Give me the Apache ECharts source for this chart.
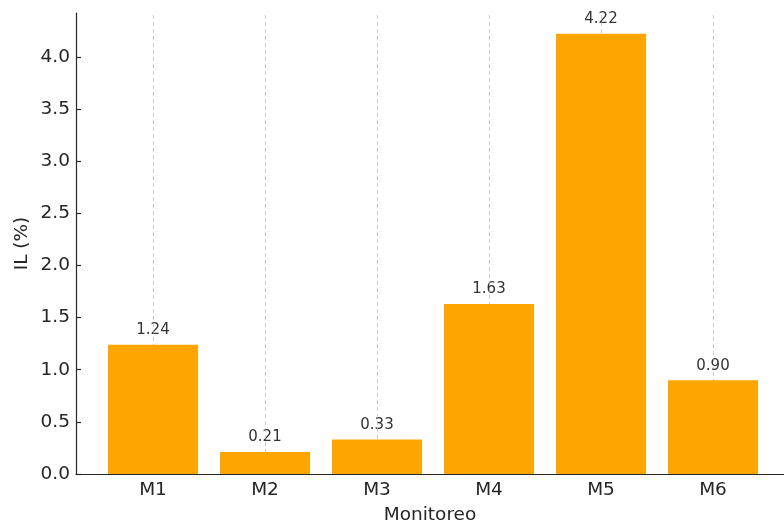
<!DOCTYPE html>
<html>
<head>
<meta charset="utf-8">
<script src="https://cdn.jsdelivr.net/npm/echarts@6/dist/echarts.min.js"></script>
<style>
html,body{margin:0;padding:0;background:#fff;}
#chart{width:784px;height:522px;}
</style>
</head>
<body>
<div id="chart"></div>
<script>
const categories = ["M1", "M2", "M3", "M4", "M5", "M6"];
const values = [1.24, 0.21, 0.33, 1.63, 4.22, 0.90];
const yTicks = [0, 0.5, 1.0, 1.5, 2.0, 2.5, 3.0, 3.5, 4.0];
const xName = "Monitoreo";
const yName = "IL (%)";

const catIdx = categories.map((c, i) => i);
const font = "DejaVu Sans";

const chart = echarts.init(document.getElementById('chart'));
chart.setOption({
  animation: false,
  backgroundColor: '#ffffff',
  grid: { left: 76, right: 0, top: 13, bottom: 48, containLabel: false, outerBoundsMode: 'none' },
  xAxis: {
    type: 'value',
    min: -0.6875,
    max: 5.634,
    name: xName,
    nameLocation: 'middle',
    nameGap: 32,
    nameMoveOverlap: false,
    nameTextStyle: { fontFamily: font, fontSize: 18.5, color: '#262626' },
    axisLine: { show: true, onZero: false, lineStyle: { color: '#262626', width: 1.2 } },
    axisTick: { show: true, inside: true, length: 5, customValues: catIdx, lineStyle: { color: '#262626', width: 1.2 } },
    axisLabel: {
      customValues: catIdx,
      formatter: v => categories[Math.round(v)] ?? '',
      fontFamily: font, fontSize: 18.5, color: '#262626', margin: 7
    },
    splitLine: { show: false }
  },
  yAxis: {
    type: 'value',
    min: 0,
    max: 4.42,
    name: yName,
    nameLocation: 'middle',
    nameGap: 44,
    nameMoveOverlap: false,
    nameTextStyle: { fontFamily: font, fontSize: 18.5, color: '#262626' },
    axisLine: { show: true, onZero: false, lineStyle: { color: '#262626', width: 1.2 } },
    axisTick: { show: true, inside: true, length: 5, customValues: yTicks, lineStyle: { color: '#262626', width: 1.2 } },
    axisLabel: {
      customValues: yTicks,
      formatter: v => Number(v).toFixed(1),
      fontFamily: font, fontSize: 18.5, color: '#262626', margin: 6
    },
    splitLine: { show: false }
  },
  series: [{
    type: 'bar',
    data: values.map((v, i) => [i, v]),
    barWidth: 90,
    itemStyle: { color: '#FFA500' },
    label: {
      show: true,
      position: 'top',
      distance: 7,
      formatter: p => p.value[1].toFixed(2),
      fontFamily: font, fontSize: 15, color: '#333333'
    },
    markLine: {
      silent: true,
      symbol: 'none',
      label: { show: false },
      lineStyle: { color: '#b0b0b0', type: [4, 3], width: 0.8, opacity: 0.8 },
      data: catIdx.map(i => ({ xAxis: i }))
    }
  }]
});
</script>
</body>
</html>
